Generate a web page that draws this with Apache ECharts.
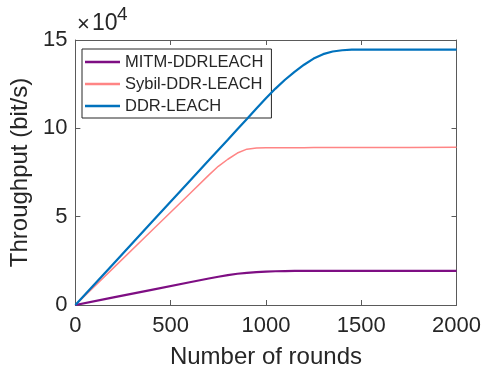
<!DOCTYPE html>
<html>
<head>
<meta charset="utf-8">
<script src="https://cdn.jsdelivr.net/npm/echarts@6/dist/echarts.min.js"></script>
<style>
html,body{margin:0;padding:0;background:#fff;}
#c{width:484px;height:374px;}
</style>
</head>
<body>
<div id="c"></div>
<script>
// rounds (x) and throughput values in units of x10^4 bit/s
var rounds = [0, 200, 400, 600, 700, 750, 800, 850, 900, 950, 1000, 1050, 1100, 1150, 1200, 1250, 1300, 1350, 1400, 1450, 1500, 1750, 2000];
var mitm   = [0, 0.43, 0.86, 1.29, 1.50, 1.60, 1.69, 1.77, 1.82, 1.86, 1.89, 1.91, 1.92, 1.93, 1.93, 1.93, 1.93, 1.93, 1.93, 1.93, 1.93, 1.93, 1.93];
var sybil  = [0, 2.10, 4.20, 6.30, 7.35, 7.85, 8.25, 8.60, 8.82, 8.88, 8.90, 8.90, 8.90, 8.90, 8.90, 8.91, 8.91, 8.91, 8.91, 8.92, 8.92, 8.92, 8.93];
var ddr    = [0, 2.34, 4.68, 7.02, 8.19, 8.78, 9.36, 9.95, 10.53, 11.12, 11.70, 12.25, 12.75, 13.20, 13.60, 13.95, 14.20, 14.35, 14.42, 14.45, 14.45, 14.45, 14.45];
var seriesNames = ['MITM-DDRLEACH', 'Sybil-DDR-LEACH', 'DDR-LEACH'];
var yTicks = [0, 5, 10, 15];
var xTicks = [0, 500, 1000, 1500, 2000];

function pairs(ys){ return rounds.map(function(r,i){ return [r, ys[i]]; }); }

var FONT = '"Liberation Sans", Arial, Helvetica, sans-serif';
var TXT = '#262626';
var AX = '#5a5a5a';

var chart = echarts.init(document.getElementById('c'), null, {renderer:'canvas'});
var axisCommonX = {
  type:'value', min:xTicks[0], max:xTicks[xTicks.length-1], interval:xTicks[1]-xTicks[0],
  splitLine:{show:false},
  axisLine:{show:true, onZero:false, lineStyle:{color:AX, width:1}},
  axisTick:{show:true, inside:true, length:5, lineStyle:{color:AX}}
};
var axisCommonY = {
  type:'value', min:yTicks[0], max:yTicks[yTicks.length-1], interval:yTicks[1]-yTicks[0],
  splitLine:{show:false},
  axisLine:{show:true, onZero:false, lineStyle:{color:AX, width:1}},
  axisTick:{show:true, inside:true, length:5, lineStyle:{color:AX}}
};
chart.setOption({
  animation:false,
  backgroundColor:'#fff',
  grid:{left:75, right:27, top:40, bottom:69, containLabel:false},
  xAxis:[
    Object.assign({}, axisCommonX, {
      position:'bottom',
      name:'Number of rounds', nameLocation:'middle', nameGap:40,
      nameTextStyle:{fontFamily:FONT, fontSize:24, color:TXT},
      axisLabel:{fontFamily:FONT, fontSize:22, color:TXT, margin:10, formatter:function(v){return String(v);}}
    }),
    Object.assign({}, axisCommonX, {position:'top', axisLabel:{show:false}})
  ],
  yAxis:[
    Object.assign({}, axisCommonY, {
      position:'left',
      name:'Throughput (bit/s)', nameLocation:'middle', nameGap:38,
      nameTextStyle:{fontFamily:FONT, fontSize:24, color:TXT},
      axisLabel:{fontFamily:FONT, fontSize:22, color:TXT, margin:8, formatter:function(v){return String(v);}}
    }),
    Object.assign({}, axisCommonY, {position:'right', axisLabel:{show:false}})
  ],
  legend:{
    orient:'vertical', left:82, top:49,
    data:seriesNames,
    icon:'rect',
    itemWidth:35, itemHeight:2.5, itemGap:4,
    padding:[4,8,3,3],
    borderColor:'#262626', borderWidth:1, backgroundColor:'#fff',
    textStyle:{fontFamily:FONT, fontSize:16.5, color:TXT, lineHeight:18}
  },
  series:[
    {name:seriesNames[0], type:'line', data:pairs(mitm), symbol:'none', z:3,
     lineStyle:{color:'#7E0E83', width:2.2}, itemStyle:{color:'#7E0E83'}},
    {name:seriesNames[1], type:'line', data:pairs(sybil), symbol:'none', z:2,
     lineStyle:{color:'#FF8585', width:1.5}, itemStyle:{color:'#FF8585'}},
    {name:seriesNames[2], type:'line', data:pairs(ddr), symbol:'none', z:4,
     lineStyle:{color:'#0072BD', width:2.2}, itemStyle:{color:'#0072BD'}}
  ],
  graphic:[
    {type:'text', left:77, top:14, style:{text:'\u00d7', font:'22px '+FONT, fill:TXT}},
    {type:'text', left:92, top:12, style:{text:'10', font:'23px '+FONT, fill:TXT}},
    {type:'text', left:117, top:5, style:{text:'4', font:'19px '+FONT, fill:TXT}}
  ]
});
</script>
</body>
</html>
